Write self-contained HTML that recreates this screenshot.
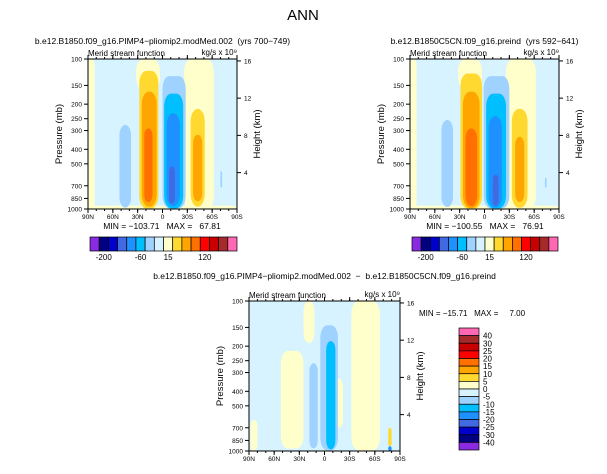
<!DOCTYPE html>
<html><head><meta charset="utf-8"><style>
body{margin:0;background:#fff;width:607px;height:469px;overflow:hidden}
svg text{font-family:"Liberation Sans",sans-serif;fill:#000;white-space:pre}
</style></head><body>
<svg id="c" width="607" height="469" viewBox="0 0 607 469" xmlns="http://www.w3.org/2000/svg">
<text x="303" y="20" font-size="15" text-anchor="middle">ANN</text>
</svg>
<script>
// ---- data ----
const latTicks=[90,60,30,0,-30,-60,-90];
const latLabels=["90N","60N","30N","0","30S","60S","90S"];
const presTicks=[100,150,200,250,300,400,500,700,850,1000];
const kmTicks=[4,8,12,16];
const levelColors=["#8a2be2","#000080","#0000cd","#4169e1","#1e90ff","#00bfff","#a0d2ff","#d6f3ff","#ffffcc","#ffd92f","#ffa500","#ff7000","#ff0000","#c80000","#a52a2a","#ff69b4"];
const topBarLabels=["-200","-60","15","120"];
const topBarLabelIdx=[1,5,8,12];
const diffLabels=["40","30","25","20","15","10","5","0","-5","-10","-15","-20","-25","-30","-40"];
// blobs: [latN, latS, pTop, pBottom, colorIndex]
const fieldA=[[90,82,100,1000,8],[32,3,100,160,8],[-26,-62,100,1000,8],[90,-90,950,1000,8],
 [52,38,275,980,6],[28,5,120,990,9],[25,7,165,965,10],[22,12,290,900,11],
 [0,-28,130,990,6],[-2,-25,170,990,5],[-5,-21,230,960,4],[-8,-15,520,920,3],
 [-34,-51,215,965,9],[-37,-48,320,890,10],[-70,-72,560,720,6]];
const fieldB=[[90,82,100,1000,8],[32,3,100,160,8],[-26,-62,100,1000,8],[90,-90,950,1000,8],
 [52,38,255,970,6],[29,3,125,990,9],[26,6,165,985,10],[23,9,290,960,11],
 [1,-30,130,990,6],[-2,-26,170,990,5],[-5,-21,240,980,4],[-10,-17,590,950,3],
 [-33,-52,215,980,9],[-37,-48,330,900,10],[-73,-75,620,720,6]];
const fieldD=[[88,80,620,1000,8],[52,25,215,965,8],[25,12,100,190,8],[-12,-22,330,700,8],[-32,-66,100,990,8],
 [5,-16,145,990,6],[18,8,260,960,6],[-2,-13,185,975,5],[-76,-80,700,930,9],[-76,-80,930,1000,4]];
const pMin=100,pMax=1000;
// ---- drawing ----
const S=document.getElementById('c'),NS="http://www.w3.org/2000/svg";
function el(t,a,p){const e=document.createElementNS(NS,t);for(const k in a)e.setAttribute(k,a[k]);(p||S).appendChild(e);return e}
function txt(x,y,s,fs,anc,p){const t=el('text',{x:x,y:y,'font-size':fs,'text-anchor':anc||'middle'},p);t.textContent=s;return t}
function panel(name,x0,y0,w,h,field,sub,subOff){
 const g=el('g',{});
 
 
 const X=lat=>x0+(90-lat)/180*w;
 const Y=p=>y0+Math.log(p/pMin)/Math.log(pMax/pMin)*h;
 const cp='cp'+name;const c=el('clipPath',{id:cp},g);el('rect',{x:x0,y:y0,width:w,height:h},c);
 const f=el('g',{'clip-path':'url(#'+cp+')'},g);
 el('rect',{x:x0,y:y0,width:w,height:h,fill:levelColors[7]},f);
 field.forEach(b=>{const x1=X(b[0]),x2=X(b[1]),y1=Y(b[2]),y2=Y(b[3]);
  const rr=Math.min((x2-x1)/2,7);
  const r=el('rect',{x:x1,y:y1,width:x2-x1,height:y2-y1,rx:rr,ry:Math.min(rr*1.8,14),fill:levelColors[b[4]]},f);
  
  });
 el('rect',{x:x0,y:y0,width:w,height:h,fill:'none',stroke:'#000','stroke-width':1},g);
 latTicks.forEach((l,i)=>{const x=X(l);el('line',{x1:x,y1:y0+h,x2:x,y2:y0+h+4,stroke:'#000'},g);el('line',{x1:x,y1:y0,x2:x,y2:y0-4,stroke:'#000'},g);
  const t=txt(x,y0+h+10,latLabels[i],6.5,'middle',g);});
 for(let l=80;l>-90;l-=10){const x=X(l);el('line',{x1:x,y1:y0+h,x2:x,y2:y0+h+2,stroke:'#000'},g);el('line',{x1:x,y1:y0,x2:x,y2:y0-2,stroke:'#000'},g);}
 presTicks.forEach(p=>{const y=Y(p);el('line',{x1:x0-4,y1:y,x2:x0,y2:y,stroke:'#000'},g);
  const t=txt(x0-6,y+2.5,String(p),6.5,'end',g);});
 kmTicks.forEach(k=>{const p=1013*Math.exp(-k/7);const y=Y(p);el('line',{x1:x0+w,y1:y,x2:x0+w+4,y2:y,stroke:'#000'},g);txt(x0+w+7,y+2.5,String(k),6.5,'start',g);});
 const yl=txt(0,0,'Pressure (mb)',9.5,'middle',g);yl.setAttribute('transform','translate('+(x0-26)+','+(y0+h/2)+') rotate(-90)');
 
 const hl=txt(0,0,'Height (km)',9.5,'middle',g);hl.setAttribute('transform','translate('+(x0+w+23)+','+(y0+h/2)+') rotate(-90)');
 
 txt(x0,y0-3,'Merid stream function',8,'start',g);
 txt(x0+w,y0-4,'kg/s x 10\u2079',8,'end',g);
 const st=txt(x0+w/2,y0-subOff,sub,8.5,'middle',g);
 return g;
}
function hbar(name,x0,y0,w,h){const g=el('g',{});
 const bw=w/levelColors.length;levelColors.forEach((c,i)=>el('rect',{x:x0+i*bw,y:y0,width:bw,height:h,fill:c,stroke:'#000','stroke-width':0.7},g));
 topBarLabels.forEach((s,i)=>txt(x0+(topBarLabelIdx[i]+0.5)*bw,y0+h+9,s,8,'middle',g));}
panel('panel-pliomip',88,59,149,150,fieldA,'b.e12.B1850.f09_g16.PIMP4\u2212pliomip2.modMed.002  (yrs 700\u2212749)',15);
txt(162,229,'MIN = \u2212103.71   MAX =   67.81',8.5);
hbar('colorbar-left',90,237,147,14);
panel('panel-preind',410,59,149,150,fieldB,'b.e12.B1850C5CN.f09_g16.preind  (yrs 592\u2212641)',15);
txt(485,229,'MIN = \u2212100.55   MAX =   76.91',8.5);
hbar('colorbar-right',412,237,146,14);
panel('panel-difference',249,301,151,150,fieldD,'b.e12.B1850.f09_g16.PIMP4\u2212pliomip2.modMed.002  \u2212  b.e12.B1850C5CN.f09_g16.preind',22);
txt(419,316,'MIN = \u221215.71   MAX =     7.00',8,'start');
const vb=el('g',{});
const rev=levelColors.slice().reverse(),bh=122/rev.length;
rev.forEach((c,i)=>el('rect',{x:459,y:328+i*bh,width:20,height:bh,fill:c,stroke:'#000','stroke-width':0.7},vb));
diffLabels.forEach((s,i)=>txt(483,328+(i+1)*bh+3,s,8,'start',vb));
</script>
</body></html>
